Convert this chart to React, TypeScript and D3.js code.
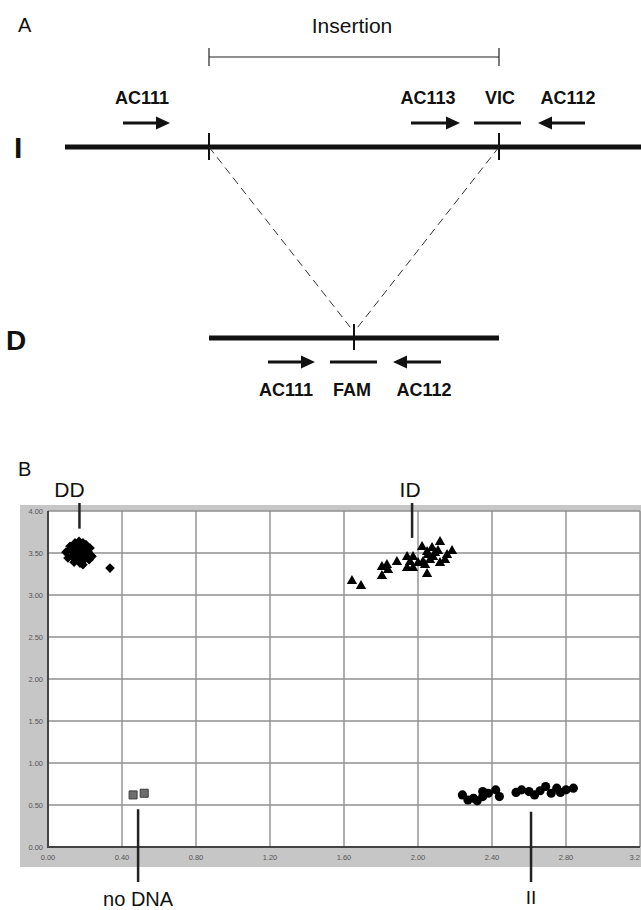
import React from 'react';
import * as d3 from 'd3';

// genotype clusters, x = FAM signal, y = VIC signal
const ddX = [0.097, 0.119, 0.13, 0.146, 0.151, 0.162, 0.173, 0.184, 0.195, 0.205, 0.216, 0.141, 0.168, 0.189, 0.227, 0.238, 0.108, 0.124, 0.157, 0.178, 0.2, 0.211, 0.135, 0.173, 0.222, 0.151, 0.189, 0.335];
const ddY = [3.51, 3.58, 3.46, 3.62, 3.54, 3.44, 3.57, 3.5, 3.42, 3.6, 3.52, 3.39, 3.64, 3.36, 3.56, 3.46, 3.44, 3.55, 3.49, 3.43, 3.55, 3.48, 3.51, 3.38, 3.42, 3.6, 3.62, 3.32];

const idX = [1.643, 1.692, 1.805, 1.805, 1.832, 1.838, 1.886, 1.941, 1.941, 1.973, 1.973, 1.957, 2.022, 2.049, 2.076, 2.119, 2.108, 2.157, 2.184, 2.049, 2.119, 2.027, 2.081, 2.054, 2.092, 2.146, 2.065, 2.0, 2.038];
const idY = [3.167, 3.107, 3.226, 3.333, 3.357, 3.298, 3.393, 3.452, 3.321, 3.321, 3.452, 3.393, 3.571, 3.512, 3.56, 3.631, 3.524, 3.476, 3.524, 3.25, 3.381, 3.393, 3.452, 3.476, 3.5, 3.417, 3.417, 3.381, 3.357];

const iiX = [2.24, 2.27, 2.3, 2.32, 2.35, 2.38, 2.42, 2.44, 2.53, 2.56, 2.6, 2.63, 2.66, 2.69, 2.72, 2.75, 2.77, 2.8, 2.84, 2.35];
const iiY = [0.62, 0.56, 0.58, 0.55, 0.6, 0.64, 0.68, 0.6, 0.65, 0.68, 0.66, 0.62, 0.67, 0.72, 0.64, 0.7, 0.65, 0.68, 0.7, 0.66];

const noDnaX = [0.46, 0.52];
const noDnaY = [0.62, 0.64];

const xTicks = [0, 0.4, 0.8, 1.2, 1.6, 2.0, 2.4, 2.8, 3.2];
const yTicks = [0, 0.5, 1.0, 1.5, 2.0, 2.5, 3.0, 3.5, 4.0];

// cluster labels: anchor value and which side the label sits on
const clusterLabels = [
  { text: 'DD', x: 0.17, textDx: -10, side: 'top', end: 3.79 },
  { text: 'ID', x: 1.968, textDx: -2, side: 'top', end: 3.68 },
  { text: 'no DNA', x: 0.487, textDx: 0, side: 'bottom', end: 0.45 },
  { text: 'II', x: 2.611, textDx: 0, side: 'bottom', end: 0.42 },
];

// panel A schematic (positions along the drawing, px)
const insertionStart = 209;
const insertionEnd = 499;
const junction = 354;
const primersI = [
  { label: 'AC111', kind: 'fwd', from: 123, to: 170, labelX: 142 },
  { label: 'AC113', kind: 'fwd', from: 411, to: 460, labelX: 428 },
  { label: 'VIC', kind: 'probe', from: 474, to: 521, labelX: 500 },
  { label: 'AC112', kind: 'rev', from: 538, to: 585, labelX: 568 },
];
const primersD = [
  { label: 'AC111', kind: 'fwd', from: 268, to: 315, labelX: 286 },
  { label: 'FAM', kind: 'probe', from: 330, to: 377, labelX: 352 },
  { label: 'AC112', kind: 'rev', from: 393, to: 441, labelX: 424 },
];

const FONT = "'Liberation Sans', Arial, Helvetica, sans-serif";

const Primer = ({ p, y }: { p: any; y: number }) => {
  if (p.kind === 'probe') {
    return <line x1={p.from} x2={p.to} y1={y} y2={y} stroke="#111" strokeWidth={3} />;
  }
  const head = 14;
  const half = 6.5;
  if (p.kind === 'fwd') {
    return (
      <g>
        <line x1={p.from} x2={p.to - head + 1} y1={y} y2={y} stroke="#111" strokeWidth={3} />
        <path d={`M${p.to - head},${y - half}L${p.to},${y}L${p.to - head},${y + half}Z`} fill="#111" />
      </g>
    );
  }
  return (
    <g>
      <line x1={p.from + head - 1} x2={p.to} y1={y} y2={y} stroke="#111" strokeWidth={3} />
      <path d={`M${p.from + head},${y - half}L${p.from},${y}L${p.from + head},${y + half}Z`} fill="#111" />
    </g>
  );
};

export default function App() {
  const x = d3.scaleLinear().domain([0, 3.2]).range([48, 640]);
  const y = d3.scaleLinear().domain([0, 4]).range([847, 511]);

  const diamond = d3.symbol(d3.symbolSquare, 46)()!;
  const triangle = d3.symbol(d3.symbolTriangle, 46)()!;
  const circle = d3.symbol(d3.symbolCircle, 66)()!;
  const square = d3.symbol(d3.symbolSquare, 64)()!;

  const fmt = d3.format('.2f');
  const lineY = 147;
  const dLineY = 338;

  return (
    <svg width={641} height={910} style={{ position: 'absolute', left: 0, top: 0, background: '#fff' }} fontFamily={FONT}>
      {/* ---------- panel A ---------- */}
      <text x={18} y={32} fontSize={20} fill="#111">A</text>
      <text x={352} y={33} fontSize={21} fill="#111" textAnchor="middle">Insertion</text>
      <g stroke="#222" strokeWidth={1.2}>
        <line x1={insertionStart} x2={insertionEnd} y1={57} y2={57} />
        <line x1={insertionStart} x2={insertionStart} y1={48} y2={66} />
        <line x1={insertionEnd} x2={insertionEnd} y1={48} y2={66} />
      </g>

      {primersI.map(p => (
        <text key={'t' + p.label} x={p.labelX} y={104} fontSize={18} fontWeight="bold" textAnchor="middle" fill="#111">{p.label}</text>
      ))}
      {primersI.map(p => <Primer key={p.label} p={p} y={123} />)}

      <text x={14} y={158} fontSize={30} fontWeight="bold" fill="#111">I</text>
      <line x1={65} x2={641} y1={lineY} y2={lineY} stroke="#111" strokeWidth={5} />
      <line x1={insertionStart} x2={insertionStart} y1={133} y2={160} stroke="#111" strokeWidth={2} />
      <line x1={insertionEnd} x2={insertionEnd} y1={133} y2={160} stroke="#111" strokeWidth={2} />

      <g stroke="#333" strokeWidth={1} strokeDasharray="8,5">
        <line x1={insertionStart} y1={lineY} x2={junction} y2={dLineY - 6} />
        <line x1={insertionEnd} y1={lineY} x2={junction} y2={dLineY - 6} />
      </g>

      <text x={6} y={350} fontSize={28} fontWeight="bold" fill="#111">D</text>
      <line x1={insertionStart} x2={insertionEnd} y1={dLineY} y2={dLineY} stroke="#111" strokeWidth={5} />
      <line x1={junction} x2={junction} y1={dLineY - 14} y2={dLineY + 12} stroke="#111" strokeWidth={2} />
      {primersD.map(p => <Primer key={p.label} p={p} y={362} />)}
      {primersD.map(p => (
        <text key={'t' + p.label} x={p.labelX} y={396} fontSize={18} fontWeight="bold" textAnchor="middle" fill="#111">{p.label}</text>
      ))}

      {/* ---------- panel B ---------- */}
      <text x={18} y={476} fontSize={20} fill="#111">B</text>

      <rect x={20} y={505} width={621} height={362} fill="#c6c6c6" />
      <rect x={x(0)} y={y(4)} width={x(3.2) - x(0)} height={y(0) - y(4)} fill="#fff" />

      <g stroke="#8f8f8f" strokeWidth={1.4}>
        {yTicks.slice(1).map(t => (
          <line key={'gy' + t} x1={x(0)} x2={x(3.2)} y1={y(t)} y2={y(t)} />
        ))}
        {xTicks.slice(1).map(t => (
          <line key={'gx' + t} x1={x(t)} x2={x(t)} y1={y(4)} y2={y(0)} />
        ))}
      </g>
      <g stroke="#444" strokeWidth={2}>
        <line x1={x(0)} x2={x(0)} y1={y(4)} y2={y(0) + 1} />
        <line x1={x(0) - 1} x2={x(3.2)} y1={y(0)} y2={y(0)} />
      </g>

      <g fontSize={7.5} fill="#555">
        {yTicks.map(t => (
          <text key={'ly' + t} x={x(0) - 5} y={y(t) + 2.5} textAnchor="end">{fmt(t)}</text>
        ))}
        {xTicks.map(t => (
          <text key={'lx' + t} x={x(t)} y={y(0) + 13} textAnchor={t === 3.2 ? 'end' : 'middle'}>
            {t === 3.2 ? fmt(t).slice(0, 3) : fmt(t)}
          </text>
        ))}
      </g>

      {/* DD diamonds */}
      {ddX.map((v, i) => (
        <path key={'dd' + i} d={diamond} transform={`translate(${x(v)},${y(ddY[i])}) rotate(45)`} fill="#000" />
      ))}
      {/* ID triangles */}
      {idX.map((v, i) => (
        <path key={'id' + i} d={triangle} transform={`translate(${x(v)},${y(idY[i])})`} fill="#000" />
      ))}
      {/* II circles */}
      {iiX.map((v, i) => (
        <path key={'ii' + i} d={circle} transform={`translate(${x(v)},${y(iiY[i])})`} fill="#000" />
      ))}
      {/* no DNA squares */}
      {noDnaX.map((v, i) => (
        <path key={'nd' + i} d={square} transform={`translate(${x(v)},${y(noDnaY[i])})`} fill="#6e6e6e" stroke="#3a3a3a" strokeWidth={1} />
      ))}

      {clusterLabels.map(l => {
        const lx = x(l.x);
        if (l.side === 'top') {
          return (
            <g key={l.text}>
              <line x1={lx} x2={lx} y1={503} y2={y(l.end)} stroke="#222" strokeWidth={2.5} />
              <text x={lx + l.textDx} y={497} fontSize={21} textAnchor="middle" fill="#111">{l.text}</text>
            </g>
          );
        }
        return (
          <g key={l.text}>
            <line x1={lx} x2={lx} y1={y(l.end)} y2={882} stroke="#222" strokeWidth={2.5} />
            <text x={lx + l.textDx} y={l.text === 'II' ? 904 : 906} fontSize={l.text === 'II' ? 19 : 20} textAnchor="middle" fill="#111">{l.text}</text>
          </g>
        );
      })}
    </svg>
  );
}
